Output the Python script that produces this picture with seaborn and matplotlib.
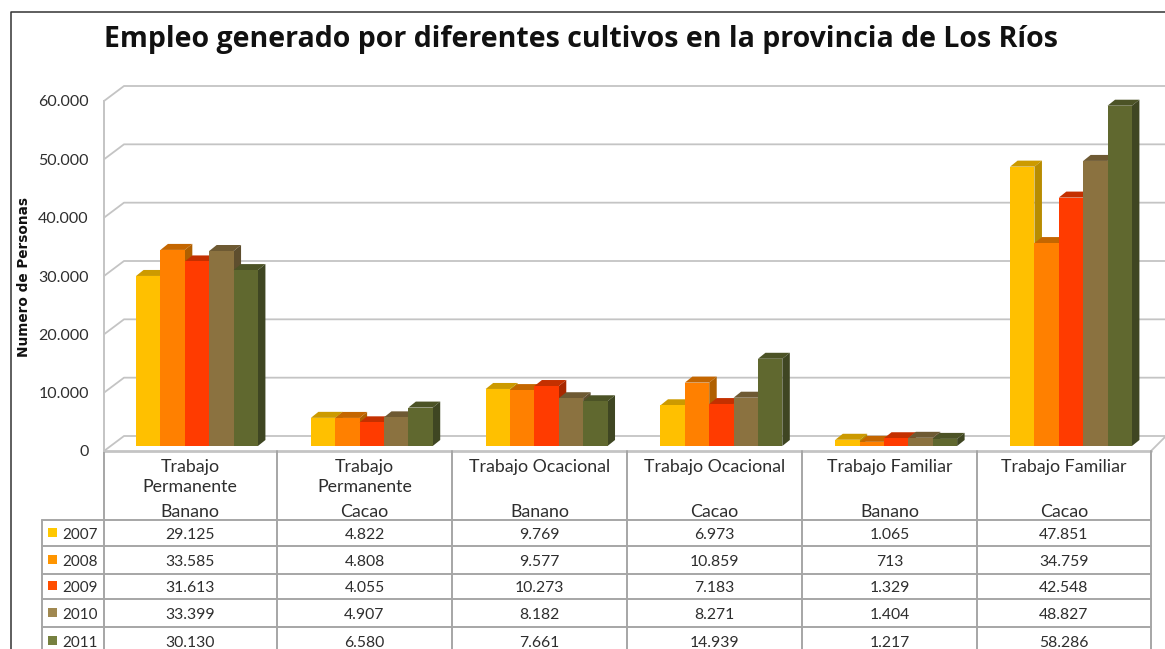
import matplotlib
matplotlib.use("Agg")
import matplotlib.pyplot as plt
from matplotlib.patches import Polygon, Rectangle
import pandas as pd
import seaborn as sns

years = ["2007", "2008", "2009", "2010", "2011"]
col_top = ["Trabajo\nPermanente", "Trabajo\nPermanente", "Trabajo Ocacional",
           "Trabajo Ocacional", "Trabajo Familiar", "Trabajo Familiar"]
col_crop = ["Banano", "Cacao", "Banano", "Cacao", "Banano", "Cacao"]

v2007 = [29125, 4822, 9769, 6973, 1065, 47851]
v2008 = [33585, 4808, 9577, 10859, 713, 34759]
v2009 = [31613, 4055, 10273, 7183, 1329, 42548]
v2010 = [33399, 4907, 8182, 8271, 1404, 48827]
v2011 = [30130, 6580, 7661, 14939, 1217, 58286]
all_values = [v2007, v2008, v2009, v2010, v2011]

y_ticks = [0, 10000, 20000, 30000, 40000, 50000, 60000]

front_colors = ["#FFC000", "#FF8000", "#FF3B00", "#8B7240", "#60682F"]
top_colors = ["#CC9A00", "#C46600", "#C43000", "#6E5A33", "#4C5326"]
side_colors = ["#B88C00", "#B06000", "#A82800", "#5E4E2E", "#3F4622"]
swatch_colors = ["#FFC800", "#FF9500", "#FF4E00", "#A08850", "#76803F"]

W, H = 1165, 649
BODY = "Lato"
TEXT = "#2E2E2E"
GRID = "#C4C4C4"
TABLE = "#A6A6A6"


def px_axes(fig, left, top, right, bottom):
    # axes placed using pixel positions measured from the top left corner
    return fig.add_axes([left / W, 1 - bottom / H, (right - left) / W, (bottom - top) / H])


df = pd.DataFrame({
    "cat": [f"{i}" for _ in years for i in range(6)],
    "year": [y for y in years for _ in range(6)],
    "value": [v for row in all_values for v in row],
})

sns.set_theme(style="white")
plt.rcParams["font.family"] = BODY

fig = plt.figure(figsize=(W / 100, H / 100), dpi=100, facecolor="white")

# page layer in pixel coordinates: frame, 3d walls and table lines
bg = fig.add_axes([0, 0, 1, 1])
bg.set_xlim(0, W)
bg.set_ylim(H, 0)
bg.axis("off")
bg.plot([10.5, 10.5, W], [H, 11.5, 11.5], color="#333333", lw=1.1)
bg.text(581.5, 39, "Empleo generado por diferentes cultivos en la provincia de Los Ríos",
        ha="center", va="center", fontsize=20.5, fontweight="bold", color="#111111",
        family="Open Sans")
bg.text(24, 277, "Numero de Personas", rotation=90, ha="center", va="center",
        fontsize=9.8, fontweight="bold", color="#111111", family="DejaVu Sans")

# front plane carries the value axis
front = px_axes(fig, 104, 101, 1151, 451)
front.patch.set_visible(False)
front.set_ylim(0, 60000)
front.set_xticks([])
front.set_yticks(y_ticks)
front.set_yticklabels([f"{t:,}".replace(",", ".") for t in y_ticks],
                      fontsize=11.5, color=TEXT, family=BODY, va="center_baseline")
front.tick_params(axis="y", length=0, pad=11)
sns.despine(ax=front, top=True, right=True, bottom=True, left=False)
front.spines["left"].set_color(GRID)
front.spines["left"].set_linewidth(1.4)

# back wall gridlines, with the diagonals going to the front plane
for t in y_ticks:
    y = 451 - t / 60000 * 350
    bg.plot([104, 124, W], [y, y - 15, y - 15], color=GRID, lw=1.3, zorder=1)
bg.plot([1151, 1165], [451, 437], color=GRID, lw=1.3, zorder=1)

# bars
ax = px_axes(fig, 109.6, 95.7, 1158.4, 446)
ax.patch.set_visible(False)
sns.barplot(data=df, x="cat", y="value", hue="year", hue_order=years,
            palette=front_colors, width=0.697, gap=0, saturation=1,
            dodge=True, legend=False, linewidth=0, ax=ax)
ax.set_xlim(-0.5, 5.5)
ax.set_ylim(0, 60000)
ax.axis("off")
fig.canvas.draw()

# the library's bars get their depth faces here
dx, dy = 7.5, 6
for i, container in enumerate(ax.containers):
    for bar in container:
        x0, y0 = bar.get_x(), bar.get_y()
        (l, b), (r, t) = ax.transData.transform([(x0, y0), (x0 + bar.get_width(), y0 + bar.get_height())])
        top_face = Polygon([(l, t), (l + dx, t + dy), (r + dx, t + dy), (r, t)],
                           transform=None, facecolor=top_colors[i], edgecolor="none",
                           zorder=2 + 2 * i, clip_on=False)
        side_face = Polygon([(r, b), (r + dx, b + dy), (r + dx, t + dy), (r, t)],
                            transform=None, facecolor=side_colors[i], edgecolor="none",
                            zorder=2 + 2 * i, clip_on=False)
        ax.add_artist(top_face)
        ax.add_artist(side_face)
        bar.set_zorder(3 + 2 * i)

# data table under the chart
col_x = [103.5, 277, 452, 627, 802, 977, 1151]
row_y = [520, 546, 573.5, 599, 627, 655]
bg.plot([104, 1151], [451, 451], color=GRID, lw=2, zorder=2)
for x in col_x:
    bg.plot([x, x], [451, H], color=TABLE, lw=1.4, zorder=2)
for y in row_y[:-1]:
    bg.plot([42, 1151], [y, y], color=TABLE, lw=1.4, zorder=2)
bg.plot([42, 42], [520, H], color=TABLE, lw=1.4, zorder=2)

for c in range(6):
    cx = (col_x[c] + col_x[c + 1]) / 2
    if "\n" in col_top[c]:
        first, second = col_top[c].split("\n")
        bg.text(cx, 467, first, ha="center", va="center", fontsize=12.8, color=TEXT)
        bg.text(cx, 487, second, ha="center", va="center", fontsize=12.8, color=TEXT)
    else:
        bg.text(cx, 467, col_top[c], ha="center", va="center", fontsize=12.8, color=TEXT)
    bg.text(cx, 512, col_crop[c], ha="center", va="center", fontsize=12.8, color=TEXT)

for r, year in enumerate(years):
    cy = (row_y[r] + row_y[r + 1]) / 2 + 1
    bg.add_patch(Rectangle((48, cy - 6), 9, 9, facecolor=swatch_colors[r], edgecolor="none", zorder=3))
    bg.text(62, cy + 1, year, ha="left", va="center", fontsize=11, color=TEXT)
    for c in range(6):
        cx = (col_x[c] + col_x[c + 1]) / 2
        bg.text(cx, cy + 1, f"{all_values[r][c]:,}".replace(",", "."), ha="center", va="center",
                fontsize=11.3, color=TEXT)

fig.savefig("out.png", dpi=100)
